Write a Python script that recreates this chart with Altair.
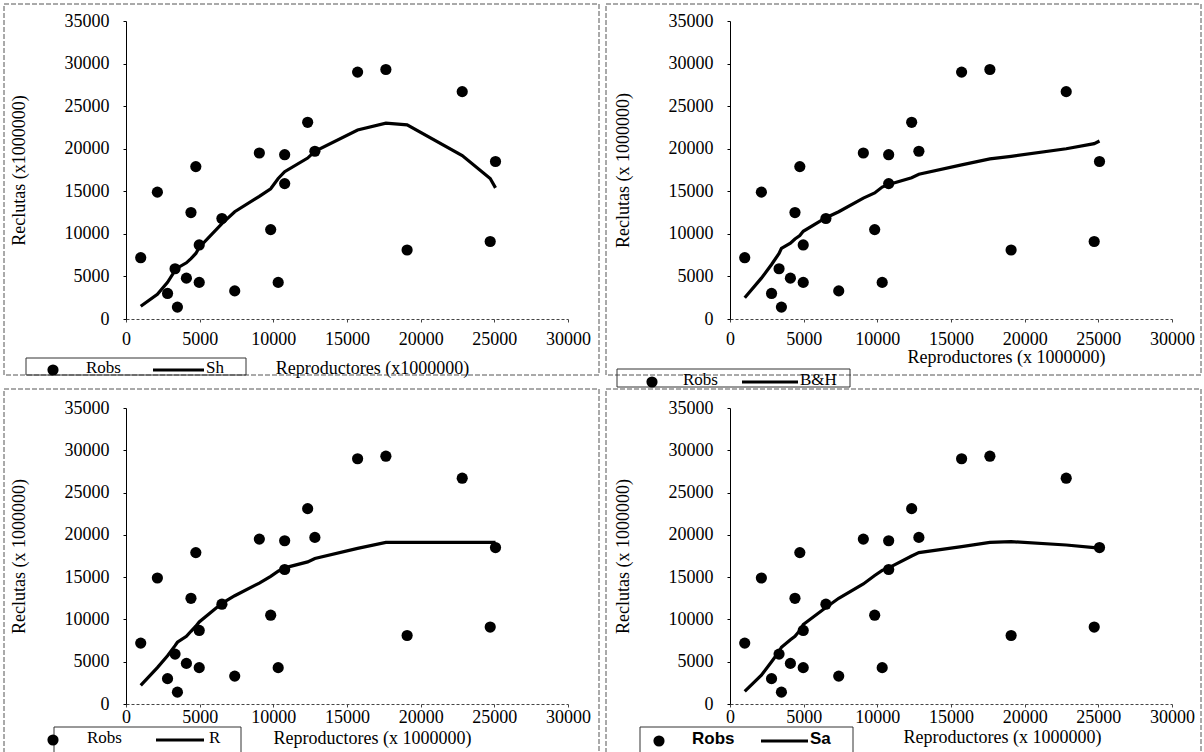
import altair as alt
import pandas as pd

# Spawners (x 1e6) and observed recruits (x 1e6)
S = [1000, 2130, 2820, 3330, 3490, 4100, 4410, 4740, 4970, 4970, 6510, 7380, 9050,
     9820, 10330, 10770, 10770, 12330, 12820, 15720, 17640, 19080, 22820, 24720, 25080]
R_OBS = [7200, 14900, 3000, 5900, 1400, 4800, 12500, 17900, 8700, 4300, 11800, 3300, 19500,
         10500, 4300, 19300, 15900, 23100, 19700, 29000, 29300, 8100, 26700, 9100, 18500]
# Fitted stock-recruitment curves
SH = [1500, 2900, 4300, 5700, 6000, 6600, 7100, 7700, 8400, 8400, 11200, 12600, 14400,
      15300, 16500, 17300, 17300, 18900, 19700, 22200, 23000, 22800, 19200, 16500, 15400]
BH = [2500, 4800, 6400, 7700, 8300, 8900, 9400, 9800, 10300, 10300, 11900, 12600, 14200,
      14800, 15500, 15800, 15800, 16600, 17000, 18100, 18800, 19100, 20000, 20600, 20900]
RK = [2200, 4300, 5700, 6900, 7300, 8000, 8600, 9200, 9700, 9700, 11900, 12800, 14300,
      15100, 15700, 16100, 16100, 16800, 17200, 18400, 19100, 19100, 19100, 19100, 19100]
SA = [1500, 3400, 5000, 6200, 6700, 7600, 8000, 8700, 9400, 9400, 11400, 12500, 14200,
      15200, 15800, 16100, 16100, 17500, 17900, 18600, 19100, 19200, 18800, 18500, 18300]

X_TICKS = [0, 5000, 10000, 15000, 20000, 25000, 30000]
Y_TICKS = [0, 5000, 10000, 15000, 20000, 25000, 30000, 35000]

W = 442
SERIF = "Liberation Serif"
SANS = "Liberation Sans"
ONE = pd.DataFrame({"k": [0]})


def panel(pred, name, x_title, y_title, H, box, lg, tx, ty, lpad,
          lfont=SERIF, lweight="normal"):
    df = pd.DataFrame({"S": S, "R": R_OBS, "P": pred})
    xenc = alt.X("S:Q", scale=alt.Scale(domain=[0, 30000], nice=False),
                 axis=alt.Axis(values=X_TICKS, format="d", grid=False, title=x_title,
                               labelFont=SERIF, labelFontSize=18, labelColor="black",
                               labelFlush=False, labelOverlap=False,
                               domainColor="#444", domainDash=[3, 2], tickColor="#444",
                               tickSize=3, labelPadding=lpad, titleFont=SERIF,
                               titleFontSize=18, titleFontWeight="normal", titleColor="black",
                               titleX=tx, titleY=ty, titleAlign="center",
                               titleBaseline="middle"))
    yenc = alt.Y("R:Q", scale=alt.Scale(domain=[0, 35000], nice=False),
                 axis=alt.Axis(values=Y_TICKS, format="d", grid=False, title=y_title,
                               labelFont=SERIF, labelFontSize=18, labelColor="black",
                               labelFlush=False, labelOverlap=False,
                               domainColor="black", tickColor="black", tickSize=3,
                               labelPadding=14, titleFont=SERIF, titleFontSize=18,
                               titleFontWeight="normal", titleColor="black",
                               titleX=-107, titleY=H / 2, titleAngle=270,
                               titleAlign="center", titleBaseline="middle"))
    bx0, bx1, by0, by1 = box
    border = alt.Chart(ONE).mark_rect(fill="white", fillOpacity=0, stroke="#555",
                                      strokeWidth=1, strokeDash=[5, 2]).encode(
        x=alt.value(bx0), x2=alt.value(bx1), y=alt.value(by0), y2=alt.value(by1))
    lx0, lx1, ly0, ly1, cx, rx, l0, l1, nx, ry = lg
    lbox = alt.Chart(ONE).mark_rect(fill="white", fillOpacity=0, stroke="#333",
                                    strokeWidth=1).encode(
        x=alt.value(lx0), x2=alt.value(lx1), y=alt.value(ly0), y2=alt.value(ly1))
    pts = alt.Chart(df).mark_circle(size=125, color="black", opacity=1).encode(x=xenc, y=yenc)
    line = alt.Chart(df).mark_line(color="black", strokeWidth=3.2).encode(
        x="S:Q", y="P:Q", order="S:Q")
    ldot = alt.Chart(ONE).mark_circle(size=125, color="black", opacity=1).encode(
        x=alt.value(cx), y=alt.value(ry + 2))
    lrule = alt.Chart(ONE).mark_rule(color="black", strokeWidth=3.2).encode(
        x=alt.value(l0), x2=alt.value(l1), y=alt.value(ry + 2))
    t1 = alt.Chart(ONE).mark_text(align="left", baseline="middle", font=lfont,
                                  fontSize=17, fontWeight=lweight, color="black").encode(
        x=alt.value(rx), y=alt.value(ry), text=alt.value("Robs"))
    t2 = alt.Chart(ONE).mark_text(align="left", baseline="middle", font=lfont,
                                  fontSize=17, fontWeight=lweight, color="black").encode(
        x=alt.value(nx), y=alt.value(ry), text=alt.value(name))
    return alt.layer(border, lbox, pts, line, ldot, lrule, t1, t2).properties(width=W, height=H)


tl = panel(SH, "Sh", "Reproductores (x1000000)", "Reclutas (x1000000)", 298,
           (-122, 473, -17, 354),
           (-100, 120, 337, 354, -73, -40, 27, 78, 80, 347), 246, 49, 8)
tr = panel(BH, "B&H", "Reproductores (x 1000000)", "Reclutas (x 1000000)", 298,
           (-124, 471, -17, 354),
           (-113, 120, 348, 366, -78, -47, 12, 68, 70, 359), 276, 38, 8)
bl = panel(RK, "R", "Reproductores (x 1000000)", "Reclutas (x 1000000)", 296,
           (-122, 473, -19, 345),
           (-72, 115, 319, 345, -73, -39, 30, 78, 83, 330), 246, 34, 1)
br = panel(SA, "Sa", "Reproductores (x 1000000)", "Reclutas (x 1000000)", 296,
           (-124, 471, -19, 345),
           (-90, 123, 319, 345, -71, -38, 31, 78, 80, 331), 272, 33, 1,
           lfont=SANS, lweight="bold")

top = alt.hconcat(tl, tr, spacing=5)
bottom = alt.hconcat(bl, br, spacing=5)
chart = alt.vconcat(top, bottom, spacing=0).configure_view(stroke=None).properties(
    padding={"left": 3, "top": 3, "right": 0, "bottom": 0}, background="white")

chart.save("out.html", embed_options={"renderer": "svg", "actions": False})
